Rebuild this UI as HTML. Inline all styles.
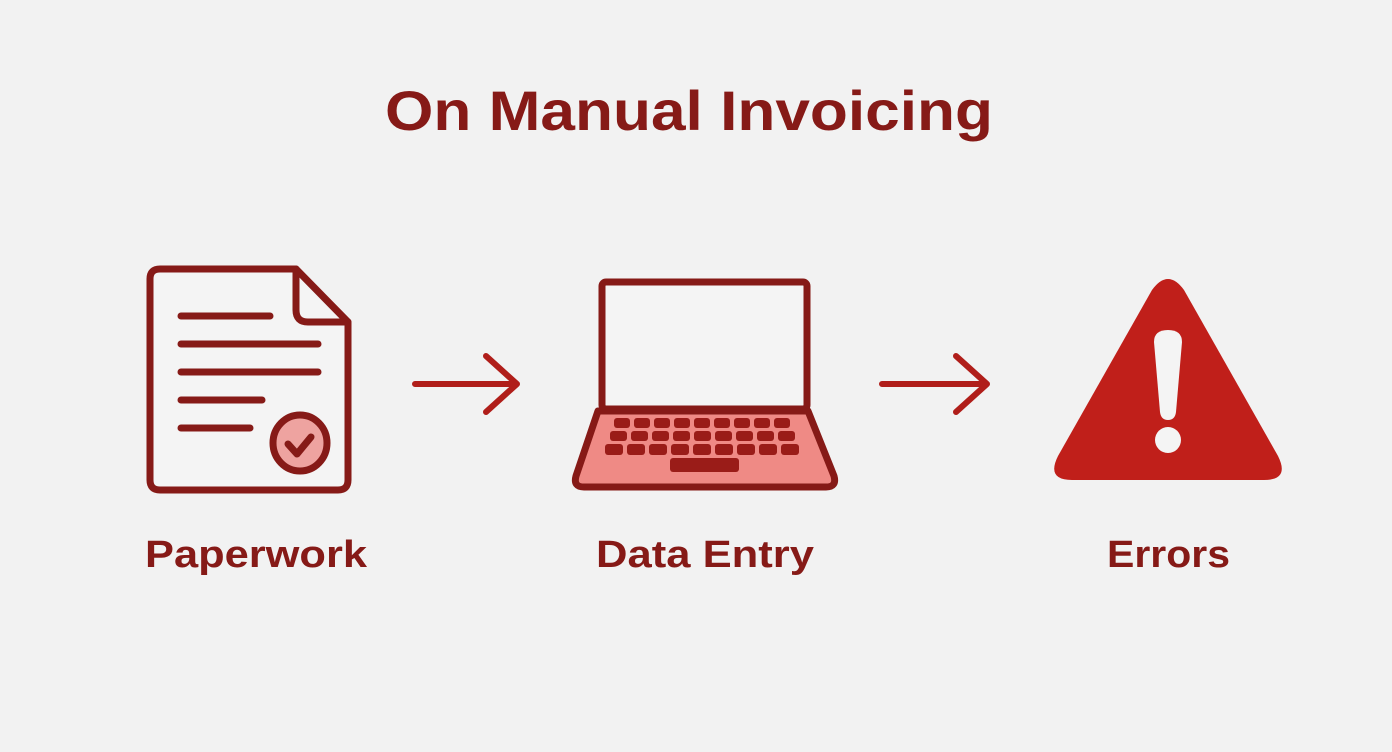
<!DOCTYPE html>
<html><head><style>html,body{margin:0;padding:0;background:#f2f2f2;}svg{display:block}</style></head>
<body>
<svg width="1392" height="752" viewBox="0 0 1392 752" xmlns="http://www.w3.org/2000/svg">
<rect width="1392" height="752" fill="#f2f2f2"/>
<g font-family="Liberation Sans, sans-serif" font-weight="bold" fill="#861a17">
<text x="385" y="130" font-size="56" textLength="608" lengthAdjust="spacingAndGlyphs">On Manual Invoicing</text>
<text x="145" y="567" font-size="38" textLength="222" lengthAdjust="spacingAndGlyphs">Paperwork</text>
<text x="596" y="567" font-size="38" textLength="218" lengthAdjust="spacingAndGlyphs">Data Entry</text>
<text x="1107" y="567" font-size="38" textLength="123" lengthAdjust="spacingAndGlyphs">Errors</text>
</g>
<!-- document -->
<g stroke="#861a17" stroke-width="7" fill="none" stroke-linecap="round" stroke-linejoin="round">
<path d="M160 269 H296 L348 322 V480 Q348 490 338 490 H160 Q150 490 150 480 V279 Q150 269 160 269 Z" fill="#f4f4f4"/>
<path d="M296 269 V310 Q296 322 308 322 H348"/>
<line x1="181" y1="316" x2="270" y2="316"/>
<line x1="181" y1="344" x2="318" y2="344"/>
<line x1="181" y1="372" x2="318" y2="372"/>
<line x1="181" y1="400" x2="262" y2="400"/>
<line x1="181" y1="428" x2="250" y2="428"/>
<ellipse cx="300" cy="443" rx="27" ry="28" fill="#eea3a0"/>
<path d="M288 444 L297 454 L311 437"/>
</g>
<!-- arrows -->
<g stroke="#b01e1a" stroke-width="6" fill="none" stroke-linecap="round" stroke-linejoin="round">
<path d="M415 384 H517 M486 356 L517 384 L486 412"/>
<path d="M882 384 H987 M956 356 L987 384 L956 412"/>
</g>
<!-- laptop -->
<g stroke="#861a17" stroke-linejoin="round">
<path d="M598 411 L808 411 L834 476 Q837 487 826 487 H584 Q573 487 576 476 Z" fill="#ef8a85" stroke-width="7"/>
<rect x="602" y="282" width="205" height="127" rx="4" fill="#f4f4f4" stroke-width="7"/>
</g>
<g fill="#9a1c18">
<g><rect x="614" y="418" width="16" height="10" rx="3"/><rect x="634" y="418" width="16" height="10" rx="3"/><rect x="654" y="418" width="16" height="10" rx="3"/><rect x="674" y="418" width="16" height="10" rx="3"/><rect x="694" y="418" width="16" height="10" rx="3"/><rect x="714" y="418" width="16" height="10" rx="3"/><rect x="734" y="418" width="16" height="10" rx="3"/><rect x="754" y="418" width="16" height="10" rx="3"/><rect x="774" y="418" width="16" height="10" rx="3"/></g>
<g><rect x="610" y="431" width="17" height="10" rx="3"/><rect x="631" y="431" width="17" height="10" rx="3"/><rect x="652" y="431" width="17" height="10" rx="3"/><rect x="673" y="431" width="17" height="10" rx="3"/><rect x="694" y="431" width="17" height="10" rx="3"/><rect x="715" y="431" width="17" height="10" rx="3"/><rect x="736" y="431" width="17" height="10" rx="3"/><rect x="757" y="431" width="17" height="10" rx="3"/><rect x="778" y="431" width="17" height="10" rx="3"/></g>
<g><rect x="605" y="444" width="18" height="11" rx="3"/><rect x="627" y="444" width="18" height="11" rx="3"/><rect x="649" y="444" width="18" height="11" rx="3"/><rect x="671" y="444" width="18" height="11" rx="3"/><rect x="693" y="444" width="18" height="11" rx="3"/><rect x="715" y="444" width="18" height="11" rx="3"/><rect x="737" y="444" width="18" height="11" rx="3"/><rect x="759" y="444" width="18" height="11" rx="3"/><rect x="781" y="444" width="18" height="11" rx="3"/></g>
<rect x="670" y="458" width="69" height="14" rx="3"/>
</g>
<!-- warning -->
<path d="M1152 290 Q1168 268 1184 290 L1278 456 Q1290 480 1264 480 H1072 Q1046 480 1058 456 Z" fill="#c01f1a"/>
<path d="M1154 342 Q1154 330 1168 330 Q1182 330 1182 342 L1176 412 Q1175 420 1168 420 Q1161 420 1160 412 Z" fill="#f4f4f4"/>
<circle cx="1168" cy="440" r="13" fill="#f4f4f4"/>
</svg>
</body></html>
